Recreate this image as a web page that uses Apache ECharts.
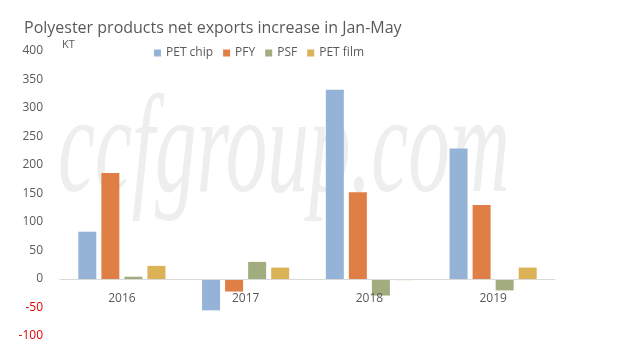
<!DOCTYPE html>
<html><head><meta charset="utf-8">
<script src="https://cdn.jsdelivr.net/npm/echarts@6/dist/echarts.min.js"></script>
<style>html,body{margin:0;padding:0;background:#fff}#c{width:638px;height:351px}</style>
</head><body><div id="c"></div>
<script>
var categories = ['2016', '2017', '2018', '2019'];
var petChip = [83, -55, 332, 229];
var pfy = [186, -22, 152, 130];
var psf = [4, 30, -29, -20];
var petFilm = [23, 20, -2, 20];
var seriesNames = ['PET chip', 'PFY', 'PSF', 'PET film'];
var colors = ['#95b3d7', '#e07f45', '#a2ad7f', '#dbb256'];

var chart = echarts.init(document.getElementById('c'));
var data = [petChip, pfy, psf, petFilm];
chart.setOption({
  animation: false,
  color: colors,
  textStyle: {fontFamily: 'Open Sans'},
  title: {
    text: 'Polyester products net exports increase in Jan-May',
    left: 19, top: 15,
    textStyle: {fontFamily: 'Open Sans', fontSize: 16, fontWeight: 'normal', color: '#595959'}
  },
  legend: {
    left: 149, top: 42, icon: 'rect', itemWidth: 7, itemHeight: 7, itemGap: 10,
    textStyle: {fontFamily: 'Open Sans', fontSize: 12, color: '#595959'},
    data: seriesNames
  },
  graphic: [
    {type: 'text', left: 62, top: 39, z: 10, style: {text: 'KT', fontFamily: 'Open Sans', fontSize: 11, fill: '#595959'}},
    {type: 'text', x: 58, y: 84, scaleX: 0.594, z: -1, silent: true,
     style: {text: 'ccfgroup.com', fontFamily: 'Liberation Serif', fontStyle: 'italic', fontSize: 140, fill: '#eeeeee'}}
  ],
  grid: {left: 60, right: 83, top: 51, bottom: 15, outerBoundsMode: 'none', containLabel: false},
  xAxis: {
    type: 'category', data: categories,
    offset: -57, z: 5,
    axisLine: {onZero: false, lineStyle: {color: '#d9d9d9'}},
    axisTick: {show: false},
    axisLabel: {fontFamily: 'Open Sans', fontSize: 12, color: '#595959', margin: 14}
  },
  yAxis: {
    type: 'value', min: -100, max: 400, interval: 50,
    splitLine: {show: false},
    axisLine: {show: false}, axisTick: {show: false},
    axisLabel: {fontFamily: 'Open Sans', fontSize: 12, margin: 17,
      color: function (v) { return Number(v) < 0 ? '#e00000' : '#595959'; }}
  },
  series: seriesNames.map(function (n, i) {
    return {name: n, type: 'bar', data: data[i], barWidth: 18, barGap: '28%', z: 2};
  })
});
</script></body></html>
